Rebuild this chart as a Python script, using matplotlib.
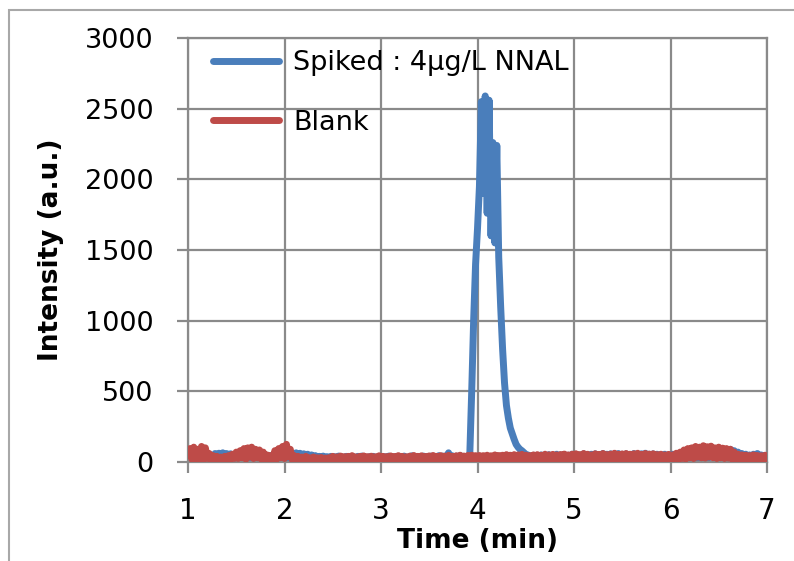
import numpy as np
import matplotlib
matplotlib.use("Agg")
import matplotlib.pyplot as plt
from matplotlib.patches import Rectangle

# sampling times (min), one point every 0.02 min
time_min = np.round(np.arange(1.0, 7.0001, 0.02), 2)

# intensity of the spiked sample (4 ug/L NNAL)
spiked = [
    30, 5, 50, 0, 45, 3, 55, 2, 40, 5, 50, 10, 45, 20, 60, 35, 62, 40, 65, 38, 60, 35, 58, 20, 45,
    10, 50, 5, 55, 2, 60, 5, 50, 0, 55, 3, 45, 8, 50, 10, 40, 15, 45, 20, 50, 10, 55, 0, 60, 2,
    65, 5, 70, 40, 60, 45, 65, 40, 62, 38, 58, 42, 55, 35, 50, 30, 45, 25, 40, 20, 42, 18, 38, 22, 40,
    15, 38, 20, 42, 18, 35, 15, 40, 20, 38, 12, 36, 18, 40, 15, 42, 20, 35, 16, 38, 14, 40, 20, 36, 18,
    40, 15, 38, 20, 42, 18, 36, 14, 40, 22, 38, 16, 42, 20, 36, 18, 44, 15, 40, 20, 38, 16, 42, 18, 40,
    20, 42, 16, 40, 22, 45, 18, 42, 20, 38, 65, 25, 44, 20, 42, 18, 46, 22, 40, 25, 30, 50, 500, 1000, 1400,
    1650, 1950, 2550, 1900, 2590, 1760, 2560, 1600, 2260, 1550, 2240, 1450, 1100, 800, 560, 400, 310, 240, 200, 160, 125, 105, 90, 80, 68,
    55, 50, 45, 30, 48, 25, 45, 28, 50, 22, 46, 30, 52, 25, 48, 28, 55, 30, 50, 25, 52, 30, 48, 26, 55,
    28, 55, 25, 50, 30, 58, 26, 52, 30, 55, 24, 58, 30, 52, 28, 60, 25, 55, 30, 58, 26, 55, 30, 60, 28,
    55, 30, 58, 25, 52, 28, 60, 30, 55, 26, 58, 30, 62, 28, 55, 25, 58, 30, 55, 28, 52, 25, 55, 30, 50,
    25, 55, 20, 50, 15, 45, 10, 40, 5, 35, 8, 40, 20, 45, 30, 60, 20, 55, 25, 60, 30, 65, 35, 70, 40,
    75, 45, 80, 50, 85, 55, 90, 60, 80, 40, 70, 35, 60, 30, 55, 25, 50, 28, 55, 30, 60, 25, 50, 20, 45,
    20,
]

# intensity of the blank
blank = [
    60, 95, 20, 105, 15, 90, 10, 110, 20, 100, 25, 60, 15, 45, 10, 40, 15, 35, 10, 40, 15, 45, 20, 55, 25,
    70, 25, 80, 30, 95, 20, 100, 35, 105, 25, 90, 30, 85, 20, 70, 15, 50, 20, 45, 15, 80, 20, 95, 30, 110,
    25, 125, 40, 90, 15, 45, 10, 40, 15, 35, 10, 40, 15, 30, 5, 35, 10, 30, 8, 32, 10, 28, 5, 30, 10,
    40, 8, 36, 5, 42, 10, 38, 6, 40, 12, 45, 8, 36, 5, 40, 10, 43, 7, 38, 5, 41, 9, 37, 6, 44,
    8, 40, 5, 38, 10, 43, 6, 39, 12, 45, 7, 40, 5, 37, 9, 42, 6, 46, 10, 40, 8, 44, 5, 39, 11,
    43, 7, 46, 10, 40, 6, 45, 12, 42, 8, 47, 10, 40, 5, 44, 9, 48, 11, 42, 8, 46, 10, 48, 12, 45,
    10, 46, 12, 45, 8, 48, 14, 44, 10, 50, 12, 46, 15, 48, 10, 52, 16, 48, 12, 52, 15, 50, 18, 54, 14,
    48, 16, 45, 18, 50, 15, 52, 20, 48, 17, 55, 20, 50, 18, 54, 22, 50, 16, 53, 20, 56, 18, 50, 22, 55,
    20, 58, 18, 52, 22, 60, 20, 55, 18, 50, 22, 58, 16, 54, 20, 60, 22, 52, 18, 56, 20, 62, 22, 55, 18,
    57, 20, 60, 16, 55, 22, 58, 18, 62, 20, 54, 18, 60, 22, 56, 18, 58, 15, 52, 20, 55, 16, 50, 18, 54,
    15, 50, 20, 62, 18, 70, 25, 85, 22, 95, 30, 100, 25, 110, 35, 105, 30, 115, 28, 108, 35, 112, 30, 100, 25,
    105, 30, 98, 25, 95, 28, 90, 20, 70, 15, 55, 18, 50, 12, 48, 15, 45, 10, 50, 12, 46, 15, 44, 10, 48,
    15,
]

labels = ["Spiked : 4μg/L NNAL", "Blank"]
x_ticks = [1, 2, 3, 4, 5, 6, 7]
y_ticks = [0, 500, 1000, 1500, 2000, 2500, 3000]

blue = "#4a7ebb"
red = "#be4b48"
grid_gray = "#8a8a8a"

plt.rcParams["font.family"] = ["DejaVu Sans"]

fig = plt.figure(figsize=(7.94, 5.61), dpi=100)
ax = fig.add_axes([188 / 794, 1 - 462 / 561, 579 / 794, 424 / 561])

# outer frame of the chart (cut off on the right and bottom)
fig.patches.append(Rectangle((8.5 / 794, -0.2), 1.5, 1.2 - 10 / 561,
                             transform=fig.transFigure, fill=False,
                             edgecolor="#a8a8a8", linewidth=1.5))

ax.plot(time_min, spiked, color=blue, lw=5, solid_joinstyle="round",
        solid_capstyle="round", label=labels[0], zorder=2)
ax.plot(time_min, blank, color=red, lw=5, solid_joinstyle="round",
        solid_capstyle="round", label=labels[1], zorder=3)

ax.set_xlim(1, 7)
ax.set_ylim(0, 3000)
ax.set_xticks(x_ticks)
ax.set_yticks(y_ticks)
ax.grid(True, color=grid_gray, lw=1.6)
ax.set_axisbelow(True)
for s in ax.spines.values():
    s.set_color(grid_gray)
    s.set_linewidth(1.6)

ax.tick_params(axis="both", direction="out", length=8, width=1.6, color=grid_gray)
ax.tick_params(axis="x", labelsize=20, pad=17)
ax.tick_params(axis="y", labelsize=19.5, pad=17)

ax.set_xlabel("Time (min)", fontsize=19, fontweight="bold")
ax.set_ylabel("Intensity (a.u.)", fontsize=19, fontweight="bold")
ax.xaxis.set_label_coords(0.5, (462 - 541) / 424)
ax.xaxis.label.set_va("center")
ax.yaxis.set_label_coords((51 - 188) / 579, 0.5)
ax.yaxis.label.set_va("center")

leg = ax.legend(loc="upper left", bbox_to_anchor=(25 / 579, 1 - 12 / 424),
                frameon=False, fontsize=19.5, handlelength=2.45, handletextpad=0.5,
                labelspacing=1.25, borderaxespad=0, borderpad=0)
leg.set_zorder(1)
for line in leg.get_lines():
    line.set_linewidth(5)
    line.set_solid_capstyle("round")

plt.savefig("out.png", dpi=100)
